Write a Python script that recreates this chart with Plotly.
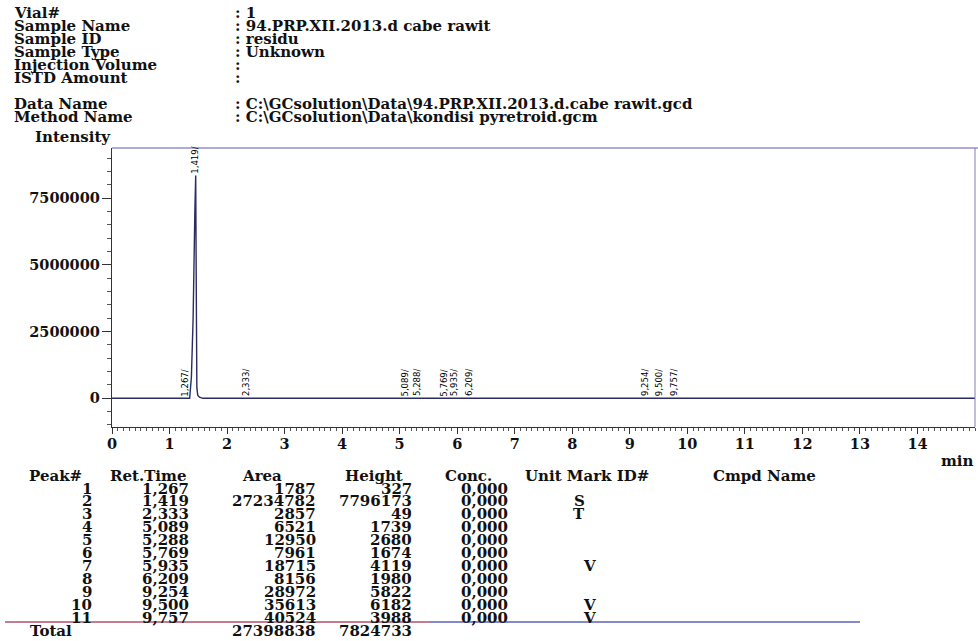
import plotly.graph_objects as go

# ---------------- data ----------------
# chromatogram trace (min, intensity)
trace_time = [0.0, 1.20, 1.267, 1.30, 1.35, 1.38, 1.41, 1.44, 1.455, 1.465, 1.475,
              1.49, 1.52, 1.58, 2.333, 5.089, 5.288, 5.769, 5.935, 6.209,
              9.254, 9.500, 9.757, 15.0]
trace_intensity = [0, 0, 327, 0, 0, 800000, 3000000, 7000000, 8350000, 4000000, 400000,
                   120000, 40000, 0, 49, 1739, 2680, 1674, 4119, 1980,
                   5822, 6182, 3988, 0]

# peak table
peak_no = [1, 2, 3, 4, 5, 6, 7, 8, 9, 10, 11]
ret_time = [1.267, 1.419, 2.333, 5.089, 5.288, 5.769, 5.935, 6.209, 9.254, 9.500, 9.757]
area = [1787, 27234782, 2857, 6521, 12950, 7961, 18715, 8156, 28972, 35613, 40524]
height = [327, 7796173, 49, 1739, 2680, 1674, 4119, 1980, 5822, 6182, 3988]
conc = [0.0] * 11
mark = ["", "S", "T", "", "", "", "V", "", "", "V", "V"]
total_area = 27398838
total_height = 7824733

x_tick_vals = list(range(0, 15))
y_tick_vals = [0, 2500000, 5000000, 7500000]
y_tick_text = ["0", "2500000", "5000000", "7500000"]

header_labels = ["Vial#", "Sample Name", "Sample ID", "Sample Type", "Injection Volume",
                 "ISTD Amount", "Data Name", "Method Name"]
header_values = [": 1", ": 94.PRP.XII.2013.d cabe rawit", ": residu", ": Unknown", ":", ":",
                 r": C:\GCsolution\Data\94.PRP.XII.2013.d.cabe rawit.gcd",
                 r": C:\GCsolution\Data\kondisi pyretroid.gcm"]
table_headers = ["Peak#", "Ret.Time", "Area", "Height", "Conc.", "Unit Mark ID#", "Cmpd Name"]

# ---------------- layout helpers ----------------
# page body margin is removed (post_script), so figure pixels == page pixels
FW, FH = 978, 641
PLOT_L, PLOT_R, PLOT_T, PLOT_B = 112, 975, 148, 427   # pixels of plot area
L, T, R, B = PLOT_L, PLOT_T, FW - PLOT_R, FH - PLOT_B
PW, PH = PLOT_R - PLOT_L, PLOT_B - PLOT_T


def px(x):
    return (x - PLOT_L) / PW


def py(y):
    return (PLOT_B - y) / PH


SERIF = "DejaVu Serif"
BLACK = "#111111"


def sfont(size):
    return dict(family=SERIF, size=size, color=BLACK, weight="bold")


def fmt_dec(v):
    return f"{v:.3f}".replace(".", ",")


fig = go.Figure()
fig.add_trace(go.Scatter(x=trace_time, y=trace_intensity, mode="lines",
                         line=dict(color="#2b2b60", width=1.4),
                         hoverinfo="skip", showlegend=False))

ann = []
# header block
header_y = [13, 26, 39, 52, 65, 78, 104, 117]
for lab, val, yy in zip(header_labels, header_values, header_y):
    ann.append(dict(x=px(12), y=py(yy), text=lab, xanchor="left", yanchor="middle",
                    font=sfont(15)))
    ann.append(dict(x=px(233), y=py(yy), text=val, xanchor="left", yanchor="middle",
                    font=sfont(15)))
ann.append(dict(x=px(33), y=py(137), text="Intensity", xanchor="left", yanchor="middle",
                font=sfont(15)))
ann.append(dict(x=px(976), y=py(461), text="min", xanchor="right", yanchor="middle",
                font=sfont(15)))

# peak labels
for t in ret_time:
    near = [v for tt, v in zip(trace_time, trace_intensity) if abs(tt - t) <= 0.05]
    base = max(near) if near else 0
    ann.append(dict(x=t, y=base, xref="x", yref="y", text=fmt_dec(t) + "/",
                    textangle=-90, xanchor="center", yanchor="bottom", yshift=0,
                    font=dict(family="Liberation Sans Narrow, DejaVu Sans Condensed, sans-serif",
                              size=9.5, color="#000000")))

# table header
hdr_left = [27, 108, 240, 343, 443, 523, 711]
for txt, xl in zip(table_headers, hdr_left):
    ann.append(dict(x=px(xl), y=py(476), text=txt, xanchor="left", yanchor="middle",
                    font=sfont(15)))

row_y0, row_dy = 488.5, 12.9
for i in range(len(peak_no)):
    yy = py(row_y0 + i * row_dy)
    cells = [(94, str(peak_no[i])), (191, fmt_dec(ret_time[i])), (318, str(area[i])),
             (414, str(height[i])), (510, fmt_dec(conc[i]))]
    for xr, txt in cells:
        ann.append(dict(x=px(xr), y=yy, text=txt, xanchor="right", yanchor="middle",
                        font=sfont(15)))
    if mark[i]:
        xm = 589 if mark[i] == "V" else 579
        ann.append(dict(x=px(xm), y=yy, text=mark[i], xanchor="center", yanchor="middle",
                        font=sfont(15)))

ann.append(dict(x=px(28), y=py(631), text="Total", xanchor="left", yanchor="middle",
                font=sfont(15)))
ann.append(dict(x=px(318), y=py(631), text=str(total_area), xanchor="right",
                yanchor="middle", font=sfont(15)))
ann.append(dict(x=px(414), y=py(631), text=str(total_height), xanchor="right",
                yanchor="middle", font=sfont(15)))

for a in ann:
    a.setdefault("xref", "paper")
    a.setdefault("yref", "paper")
    a["showarrow"] = False

shapes = [
    # top and right frame
    dict(type="line", xref="paper", yref="paper", x0=0, x1=px(978), y0=1, y1=1,
         line=dict(color="#5a5ab0", width=1.2)),
    dict(type="line", xref="paper", yref="paper", x0=1, x1=1, y0=0, y1=1,
         line=dict(color="#8a7ab8", width=1)),
    # table rule
    dict(type="line", xref="paper", yref="paper", x0=px(5), x1=px(430), y0=py(622), y1=py(622),
         line=dict(color="#b0506a", width=1.3)),
    dict(type="line", xref="paper", yref="paper", x0=px(430), x1=px(860), y0=py(622), y1=py(622),
         line=dict(color="#5a62b8", width=1.3)),
]

fig.update_layout(
    width=FW, height=FH,
    margin=dict(l=L, r=R, t=T, b=B, pad=0),
    paper_bgcolor="white", plot_bgcolor="white",
    showlegend=False,
    annotations=ann, shapes=shapes,
    xaxis=dict(range=[0, 15.0], tickmode="array", tickvals=x_tick_vals,
               ticks="outside", ticklen=6, tickwidth=1, tickcolor="#333",
               showline=True, linecolor="#333", linewidth=1.2,
               showgrid=False, zeroline=False, tickfont=sfont(14.5),
               ticklabelstandoff=-3,
               minor=dict(dtick=0.1, tick0=0, ticks="outside", ticklen=3,
                          tickcolor="#555", showgrid=False)),
    yaxis=dict(range=[-1076000, 9385000], tickmode="array", tickvals=y_tick_vals,
               ticktext=y_tick_text, ticks="outside", ticklen=9, tickwidth=1,
               tickcolor="#333", showline=True, linecolor="#333", linewidth=1.2,
               showgrid=False, zeroline=False, tickfont=sfont(14.5),
               ticklabelstandoff=-1,
               minor=dict(dtick=500000, tick0=0, ticks="outside", ticklen=4,
                          tickcolor="#555", showgrid=False)),
)

fig.write_html("out.html",
               config={"displayModeBar": False, "staticPlot": True},
               post_script="document.body.style.margin='0';"
                           "document.body.style.overflow='hidden';")
